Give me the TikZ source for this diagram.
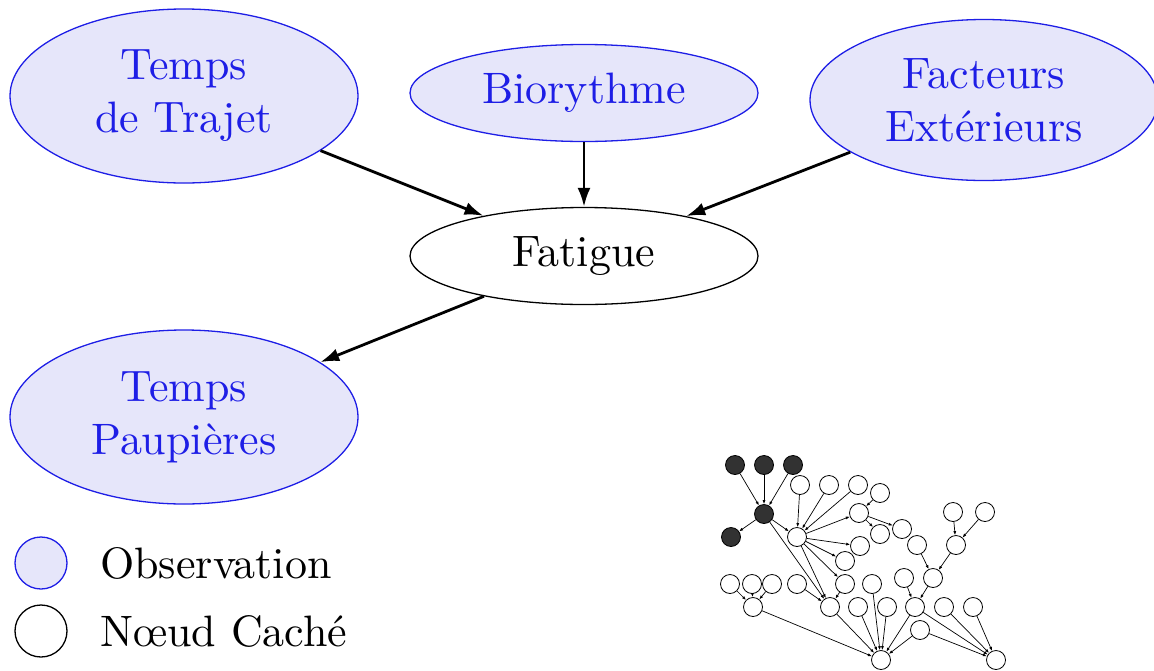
\documentclass[tikz,border=0pt]{standalone}
\usepackage{fontspec}
\setmainfont{lmroman10-regular.otf}
\usetikzlibrary{shapes.geometric,arrows.meta}
\definecolor{obsblue}{RGB}{30,30,230}
\definecolor{obsfill}{RGB}{230,230,250}
\definecolor{darknode}{RGB}{50,50,50}
\begin{document}
\begin{tikzpicture}[x=1pt,y=-1pt,
 big/.style={font=\fontsize{44}{53}\selectfont},
 obs/.style={ellipse, draw=obsblue, fill=obsfill, text=obsblue, line width=1.3, inner sep=0,
   minimum width=348, minimum height=174, align=center, big},
 hid/.style={ellipse, draw=black, fill=white, line width=1.3, inner sep=0,
   minimum width=348, minimum height=97, align=center, big},
 bigarrow/.style={-{Latex[length=19,width=13]}, line width=2.8},
 sn/.style={circle, draw=black, fill=white, line width=0.8, minimum size=19, inner sep=0},
 sd/.style={sn, fill=darknode},
 se/.style={-{Latex[length=4,width=3]}, line width=0.7},
 legtext/.style={anchor=west, inner sep=0, big},
]
\useasboundingbox (0,0) rectangle (1154,670);

% main network
\node[obs] (trajet) at (184,96) {Temps\\de Trajet};
\node[obs, minimum height=97] (bio) at (584,93) {Biorythme};
\node[obs, minimum height=161] (ext) at (984,100) {Facteurs\\Extérieurs};
\node[hid] (fat) at (584,256) {Fatigue};
\node[obs] (paup) at (184,417) {Temps\\Paupières};

\draw[bigarrow] (trajet) -- (fat);
\draw[bigarrow] (bio) -- (fat);
\draw[bigarrow] (ext) -- (fat);
\draw[bigarrow] (fat) -- (paup);

% legend
\node[circle, draw=obsblue, fill=obsfill, line width=1.3, minimum size=52, inner sep=0] (lobs) at (41,563) {};
\node[legtext] (lobst) at (100,563) {Observation};
\node[circle, draw=black, fill=white, line width=1.3, minimum size=52, inner sep=0] (lhid) at (41,631) {};
\node[legtext] (lhidt) at (100,631) {Nœud Caché};

% small graph
\node[sd] (d1) at (735,465) {};
\node[sd] (d2) at (764,465) {};
\node[sd] (d3) at (793,465) {};
\node[sd] (dc) at (764,514) {};
\node[sd] (d4) at (731,537) {};
\node[sn] (w) at (797,537) {};
\node[sn] (a1) at (800,485) {};
\node[sn] (a2) at (829,485) {};
\node[sn] (a3) at (858,485) {};
\node[sn] (a4) at (880,493) {};
\node[sn] (a5) at (859,513) {};
\node[sn] (a6) at (880,534) {};
\node[sn] (b) at (902,529) {};
\node[sn] (n1) at (860,546) {};
\node[sn] (n2) at (845,561) {};
\node[sn] (c) at (917,545) {};
\node[sn] (e) at (956,545) {};
\node[sn] (t1) at (953,512) {};
\node[sn] (t2) at (985,512) {};
\node[sn] (f) at (933,578) {};
\node[sn] (l1) at (730,584) {};
\node[sn] (l2) at (752,584) {};
\node[sn] (l3) at (772,584) {};
\node[sn] (l4) at (797,584) {};
\node[sn] (l5) at (845,584) {};
\node[sn] (l6) at (872,584) {};
\node[sn] (l7) at (904,578) {};
\node[sn] (m1) at (753,607) {};
\node[sn] (m2) at (830,607) {};
\node[sn] (m3) at (858,607) {};
\node[sn] (m4) at (887,607) {};
\node[sn] (g) at (915,607) {};
\node[sn] (m5) at (944,607) {};
\node[sn] (m6) at (973,607) {};
\node[sn] (p) at (920,630) {};
\node[sn] (z1) at (881,660) {};
\node[sn] (z2) at (996,660) {};

\foreach \s/\t in {d1/dc,d2/dc,d3/dc,dc/d4,dc/w,dc/m2,
  a1/w,a2/w,a3/w,w/a5,a4/a5,a5/b,a5/a6,
  w/n1,w/n2,w/l5,w/m2,
  t1/e,t2/e,c/f,e/f,f/g,l7/g,
  l1/m1,l2/m1,l3/m1,l4/m2,l5/m2,
  m1/z1,m2/z1,m3/z1,l6/z1,m4/z1,g/z1,p/z1,
  g/z2,p/z2,m5/z2,m6/z2}
  \draw[se] (\s) -- (\t);
\end{tikzpicture}
\end{document}
